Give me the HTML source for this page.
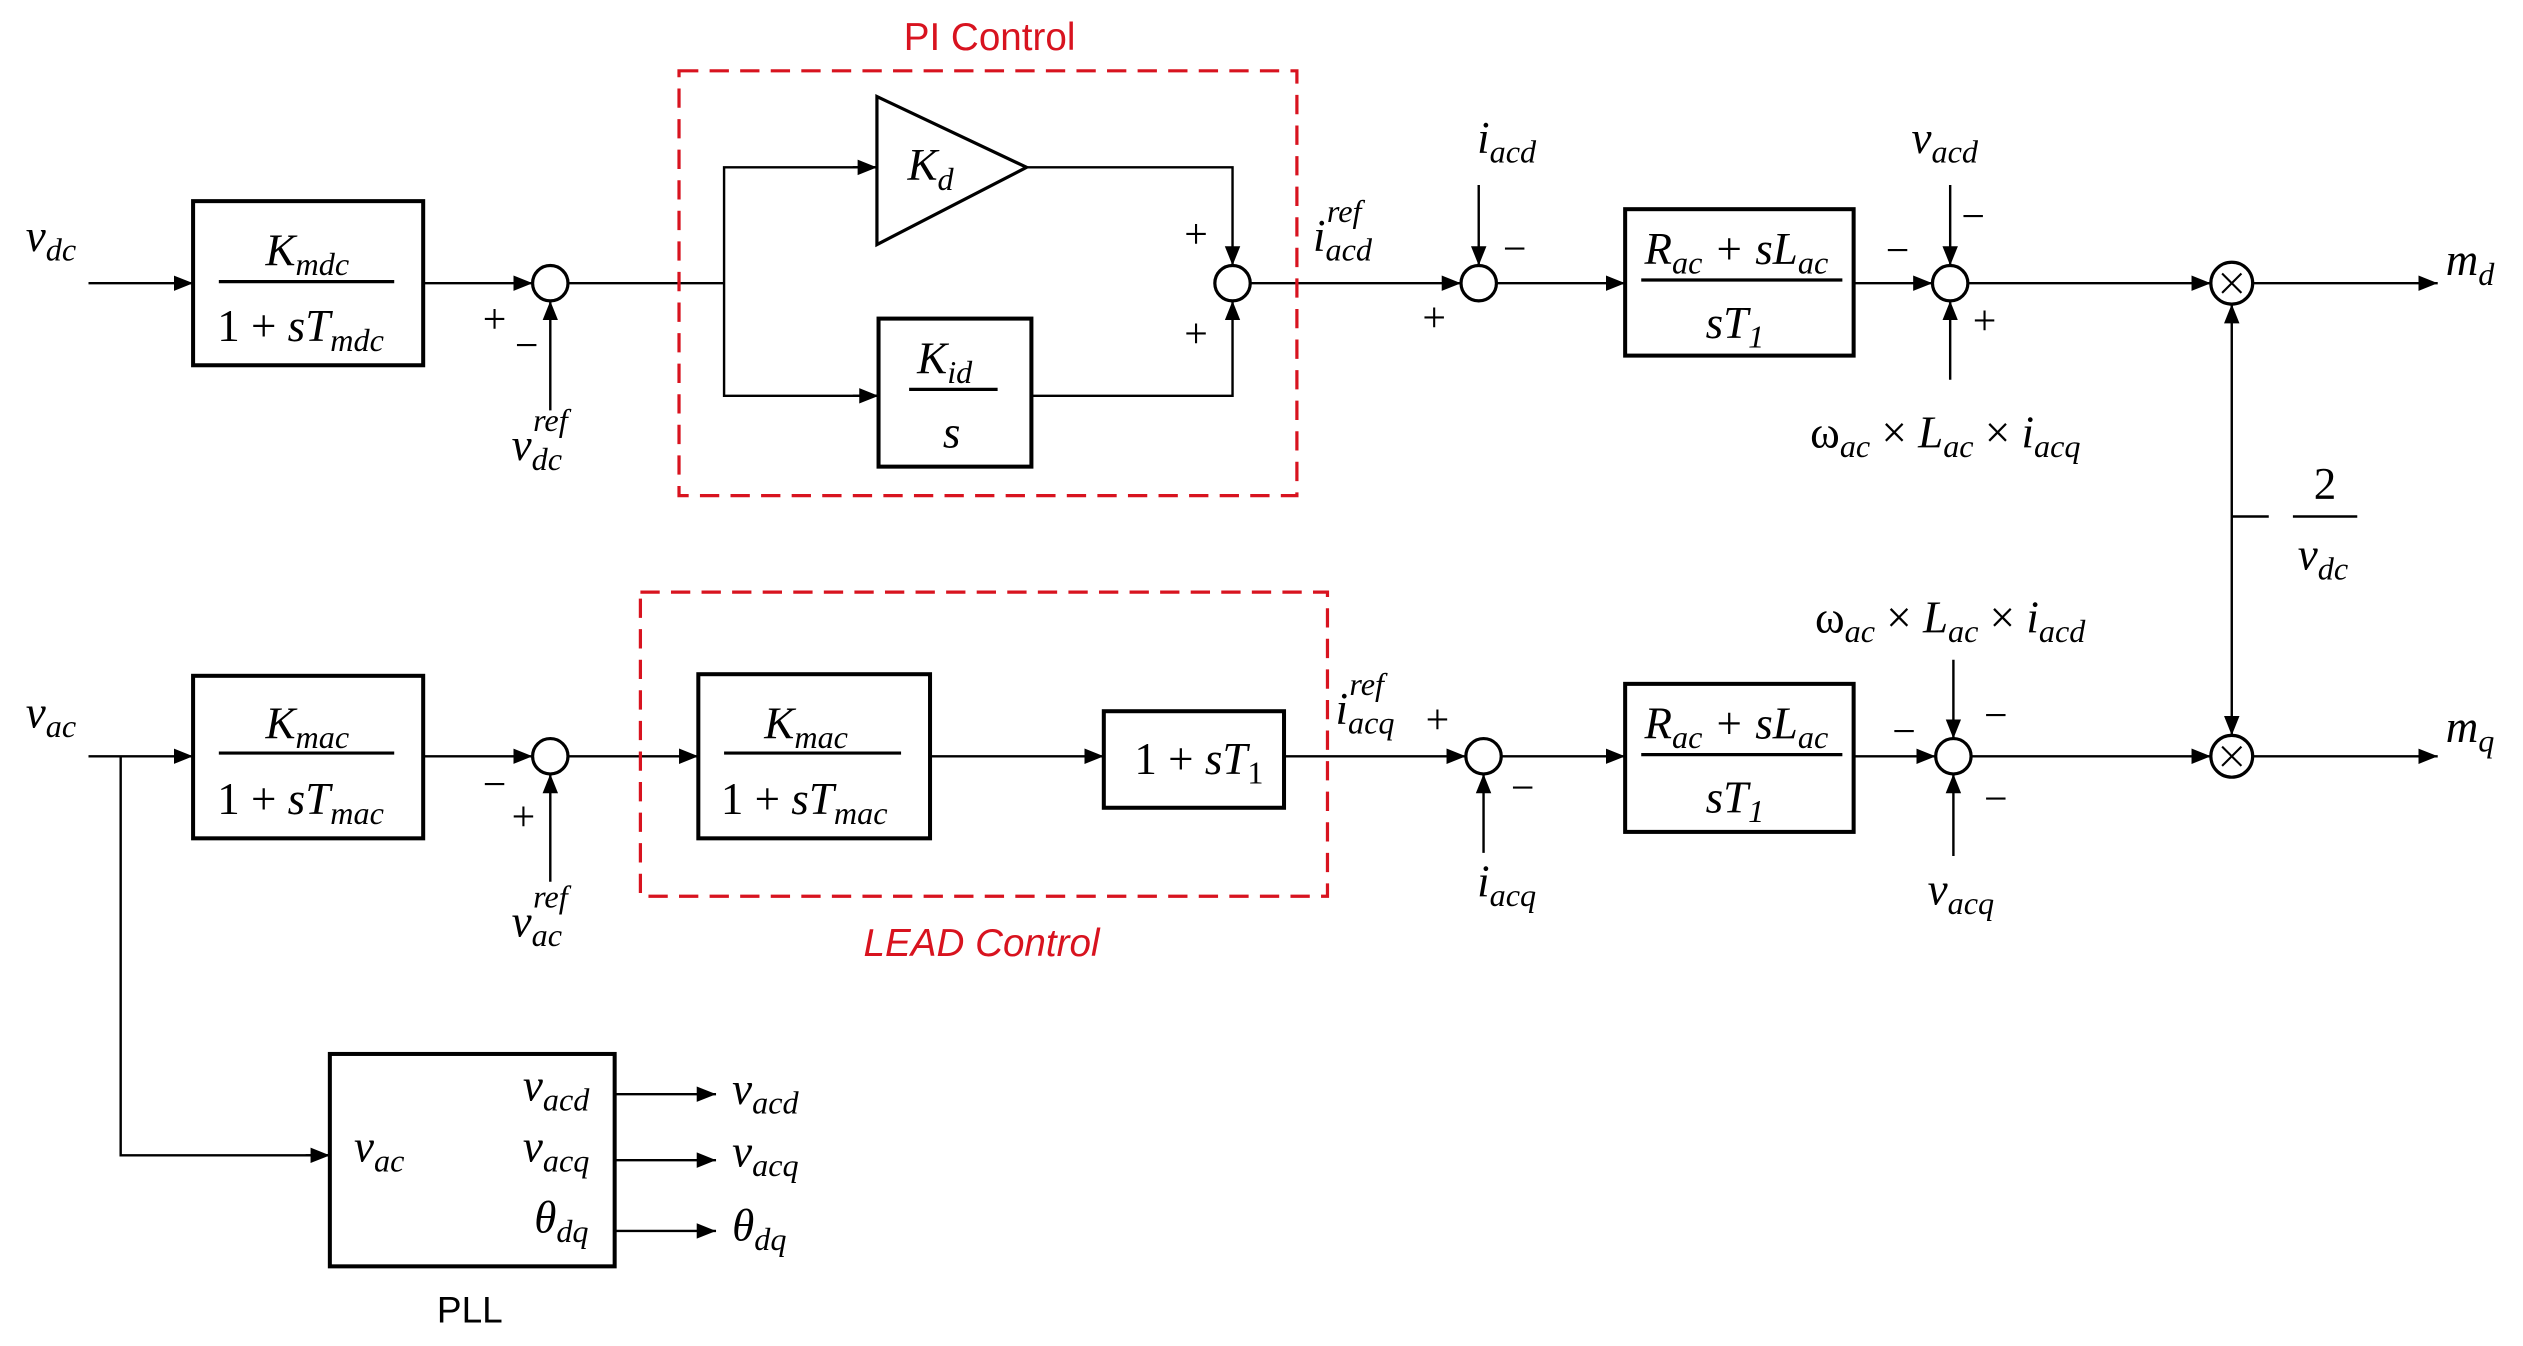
<!DOCTYPE html>
<html><head><meta charset="utf-8"><style>
html,body{margin:0;padding:0;background:#fff;}
svg{display:block;}
.t{font-family:"Liberation Serif",serif;font-style:italic;fill:#000;}
.n{font-family:"Liberation Serif",serif;fill:#000;}
.r{font-family:"Liberation Sans",sans-serif;fill:#d8131f;}
</style></head><body>
<svg width="2523" height="1346" viewBox="0 0 1568 836.5" preserveAspectRatio="none" xmlns="http://www.w3.org/2000/svg">
<defs>
<marker id="b" viewBox="0 0 10 10" refX="10" refY="5" markerWidth="12" markerHeight="12" markerUnits="userSpaceOnUse" orient="auto"><path d="M0,1 L10,5 L0,9 z" fill="#000"/></marker></defs>
<g stroke="#000" stroke-width="1.5" fill="none">
<line x1="55" y1="176" x2="120" y2="176" marker-end="url(#b)"/>
<rect x="120" y="125" width="143" height="102" stroke-width="2.5"/>
<line x1="263" y1="176" x2="331" y2="176" marker-end="url(#b)"/>
<circle cx="342" cy="176" r="11" stroke-width="2"/>
<line x1="342" y1="255" x2="342" y2="187" marker-end="url(#b)"/>
<line x1="353" y1="176" x2="450" y2="176"/>
<polyline points="545,104 450,104 450,246 545,246"/>
<line x1="530" y1="104" x2="545" y2="104" marker-end="url(#b)"/>
<line x1="530" y1="246" x2="546" y2="246" marker-end="url(#b)"/>
<polygon points="545,60 545,152 638,104" stroke-width="2"/>
<rect x="546" y="198" width="95" height="92" stroke-width="2.5"/>
<polyline points="638,104 766,104 766,165" marker-end="url(#b)"/>
<polyline points="641,246 766,246 766,187" marker-end="url(#b)"/>
<circle cx="766" cy="176" r="11" stroke-width="2"/>
<line x1="777" y1="176" x2="908" y2="176" marker-end="url(#b)"/>
<circle cx="919" cy="176" r="11" stroke-width="2"/>
<line x1="919" y1="115" x2="919" y2="165" marker-end="url(#b)"/>
<line x1="930" y1="176" x2="1010" y2="176" marker-end="url(#b)"/>
<rect x="1010" y="130" width="142" height="91" stroke-width="2.5"/>
<line x1="1152" y1="176" x2="1201" y2="176" marker-end="url(#b)"/>
<circle cx="1212" cy="176" r="11" stroke-width="2"/>
<line x1="1212" y1="115" x2="1212" y2="165" marker-end="url(#b)"/>
<line x1="1212" y1="236" x2="1212" y2="187" marker-end="url(#b)"/>
<line x1="1223" y1="176" x2="1374" y2="176" marker-end="url(#b)"/>
<circle cx="1387" cy="176" r="13" stroke-width="2"/>
<line x1="1400" y1="176" x2="1515" y2="176" marker-end="url(#b)"/>
<line x1="1387" y1="321" x2="1387" y2="189" marker-end="url(#b)"/>
<line x1="1387" y1="321" x2="1387" y2="457" marker-end="url(#b)"/>
<line x1="1387" y1="321" x2="1410" y2="321"/>
<line x1="1425" y1="321" x2="1465" y2="321"/>
<line x1="55" y1="470" x2="120" y2="470" marker-end="url(#b)"/>
<polyline points="75,470 75,718 205,718" />
<line x1="190" y1="718" x2="205" y2="718" marker-end="url(#b)"/>
<rect x="120" y="420" width="143" height="101" stroke-width="2.5"/>
<line x1="263" y1="470" x2="331" y2="470" marker-end="url(#b)"/>
<circle cx="342" cy="470" r="11" stroke-width="2"/>
<line x1="342" y1="548" x2="342" y2="481" marker-end="url(#b)"/>
<line x1="353" y1="470" x2="434" y2="470" marker-end="url(#b)"/>
<rect x="434" y="419" width="144" height="102" stroke-width="2.5"/>
<line x1="578" y1="470" x2="686" y2="470" marker-end="url(#b)"/>
<rect x="686" y="442" width="112" height="60" stroke-width="2.5"/>
<line x1="798" y1="470" x2="911" y2="470" marker-end="url(#b)"/>
<circle cx="922" cy="470" r="11" stroke-width="2"/>
<line x1="922" y1="530" x2="922" y2="481" marker-end="url(#b)"/>
<line x1="933" y1="470" x2="1010" y2="470" marker-end="url(#b)"/>
<rect x="1010" y="425" width="142" height="92" stroke-width="2.5"/>
<line x1="1152" y1="470" x2="1203" y2="470" marker-end="url(#b)"/>
<circle cx="1214" cy="470" r="11" stroke-width="2"/>
<line x1="1214" y1="410" x2="1214" y2="459" marker-end="url(#b)"/>
<line x1="1214" y1="532" x2="1214" y2="481" marker-end="url(#b)"/>
<line x1="1225" y1="470" x2="1374" y2="470" marker-end="url(#b)"/>
<circle cx="1387" cy="470" r="13" stroke-width="2"/>
<line x1="1400" y1="470" x2="1515" y2="470" marker-end="url(#b)"/>
<rect x="205" y="655" width="177" height="132" stroke-width="2.5"/>
<line x1="382" y1="680" x2="445" y2="680" marker-end="url(#b)"/>
<line x1="382" y1="721" x2="445" y2="721" marker-end="url(#b)"/>
<line x1="382" y1="765" x2="445" y2="765" marker-end="url(#b)"/>
<line x1="136" y1="175" x2="245" y2="175" stroke-width="2"/>
<line x1="136" y1="468" x2="245" y2="468" stroke-width="2"/>
<line x1="450" y1="468" x2="560" y2="468" stroke-width="2"/>
<line x1="565" y1="242" x2="620" y2="242" stroke-width="2"/>
<line x1="1020" y1="174" x2="1145" y2="174" stroke-width="2"/>
<line x1="1020" y1="469" x2="1145" y2="469" stroke-width="2"/>
</g>
<g stroke="#000" stroke-width="1.3">
<line x1="1381" y1="170" x2="1393" y2="182"/><line x1="1393" y1="170" x2="1381" y2="182"/>
<line x1="1381" y1="464" x2="1393" y2="476"/><line x1="1393" y1="464" x2="1381" y2="476"/>
</g>
<g stroke="#d8131f" stroke-width="2" fill="none" stroke-dasharray="12,7">
<rect x="422" y="44" width="384" height="264"/>
<rect x="398" y="368" width="427" height="189"/>
</g>
<text class="r" x="615" y="31" font-size="24" text-anchor="middle">PI Control</text>
<text class="r" x="610" y="594" font-size="24" font-style="italic" text-anchor="middle">LEAD Control</text>
<text x="292" y="822" font-size="23" text-anchor="middle" style="font-family:'Liberation Sans',sans-serif;fill:#000">PLL</text>

<g font-size="28">
<text class="t" x="16" y="156">v<tspan font-size="20" dy="6">dc</tspan></text>
<text class="t" x="16" y="452">v<tspan font-size="20" dy="6">ac</tspan></text>
<text class="t" x="165" y="165">K<tspan font-size="20" dy="6">mdc</tspan></text>
<text class="n" x="135" y="212">1 + <tspan class="t">sT</tspan><tspan class="t" font-size="20" dy="6">mdc</tspan></text>
<text class="t" x="165" y="459">K<tspan font-size="20" dy="6">mac</tspan></text>
<text class="n" x="135" y="506">1 + <tspan class="t">sT</tspan><tspan class="t" font-size="20" dy="6">mac</tspan></text>
<text class="t" x="475" y="459">K<tspan font-size="20" dy="6">mac</tspan></text>
<text class="n" x="448" y="506">1 + <tspan class="t">sT</tspan><tspan class="t" font-size="20" dy="6">mac</tspan></text>
<text class="n" x="705" y="481">1 + <tspan class="t">sT</tspan><tspan font-size="20" dy="6">1</tspan></text>
<text class="t" x="564" y="112">K<tspan font-size="20" dy="6">d</tspan></text>
<text class="t" x="570" y="232">K<tspan font-size="20" dy="6">id</tspan></text>
<text class="t" x="586" y="278">s</text>
<text class="t" x="1022" y="164">R<tspan font-size="20" dy="6">ac</tspan><tspan class="n" dy="-6"> + </tspan>sL<tspan font-size="20" dy="6">ac</tspan></text>
<text class="t" x="1060" y="210">sT<tspan class="n" font-size="20" dy="6">1</tspan></text>
<text class="t" x="1022" y="459">R<tspan font-size="20" dy="6">ac</tspan><tspan class="n" dy="-6"> + </tspan>sL<tspan font-size="20" dy="6">ac</tspan></text>
<text class="t" x="1060" y="505">sT<tspan class="n" font-size="20" dy="6">1</tspan></text>
<text class="t" x="318" y="286">v<tspan font-size="20" dy="6">dc</tspan><tspan font-size="20" dx="-18" dy="-24">ref</tspan></text>
<text class="t" x="318" y="582">v<tspan font-size="20" dy="6">ac</tspan><tspan font-size="20" dx="-18" dy="-24">ref</tspan></text>
<text class="t" x="816" y="156">i<tspan font-size="20" dy="6">acd</tspan><tspan font-size="20" dx="-28" dy="-24">ref</tspan></text>
<text class="t" x="830" y="450">i<tspan font-size="20" dy="6">acq</tspan><tspan font-size="20" dx="-28" dy="-24">ref</tspan></text>
<text class="t" x="918" y="95">i<tspan font-size="20" dy="6">acd</tspan></text>
<text class="t" x="918" y="557">i<tspan font-size="20" dy="6">acq</tspan></text>
<text class="t" x="1188" y="95">v<tspan font-size="20" dy="6">acd</tspan></text>
<text class="t" x="1198" y="562">v<tspan font-size="20" dy="6">acq</tspan></text>
<text class="n" x="1125" y="278">ω<tspan class="t" font-size="20" dy="6">ac</tspan><tspan dy="-6"> × </tspan><tspan class="t">L</tspan><tspan class="t" font-size="20" dy="6">ac</tspan><tspan dy="-6"> × </tspan><tspan class="t">i</tspan><tspan class="t" font-size="20" dy="6">acq</tspan></text>
<text class="n" x="1128" y="393">ω<tspan class="t" font-size="20" dy="6">ac</tspan><tspan dy="-6"> × </tspan><tspan class="t">L</tspan><tspan class="t" font-size="20" dy="6">ac</tspan><tspan dy="-6"> × </tspan><tspan class="t">i</tspan><tspan class="t" font-size="20" dy="6">acd</tspan></text>
<text class="t" x="1520" y="171">m<tspan font-size="20" dy="6">d</tspan></text>
<text class="t" x="1520" y="461">m<tspan font-size="20" dy="6">q</tspan></text>
<text class="n" x="1445" y="310" text-anchor="middle">2</text>
<text class="t" x="1428" y="354">v<tspan font-size="20" dy="6">dc</tspan></text>
<text class="t" x="220" y="722">v<tspan font-size="20" dy="6">ac</tspan></text>
<text class="t" x="325" y="684">v<tspan font-size="20" dy="6">acd</tspan></text>
<text class="t" x="325" y="722">v<tspan font-size="20" dy="6">acq</tspan></text>
<text class="t" x="332" y="766">θ<tspan font-size="20" dy="6">dq</tspan></text>
<text class="t" x="455" y="686">v<tspan font-size="20" dy="6">acd</tspan></text>
<text class="t" x="455" y="725">v<tspan font-size="20" dy="6">acq</tspan></text>
<text class="t" x="455" y="771">θ<tspan font-size="20" dy="6">dq</tspan></text>
</g>
<g class="n" font-size="26">
<text x="300" y="207">+</text><text x="320" y="223">−</text>
<text x="300" y="496">−</text><text x="318" y="516">+</text>
<text x="736" y="154">+</text><text x="736" y="216">+</text>
<text x="934" y="163">−</text><text x="884" y="206">+</text>
<text x="1219" y="143">−</text><text x="1172" y="164">−</text><text x="1226" y="208">+</text>
<text x="886" y="456">+</text><text x="939" y="498">−</text>
<text x="1233" y="453">−</text><text x="1176" y="463">−</text><text x="1233" y="505">−</text>
</g>
</svg>
</body></html>
